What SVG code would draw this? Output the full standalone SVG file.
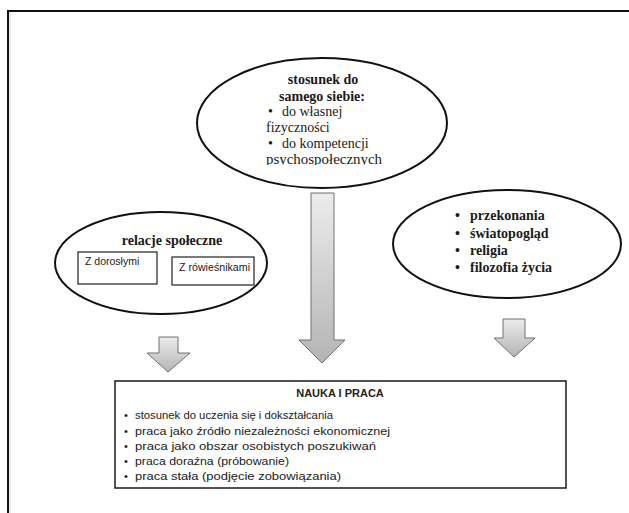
<svg xmlns="http://www.w3.org/2000/svg" width="629" height="513" viewBox="0 0 629 513">
  <style>
    .ell { fill: #ffffff; stroke: #111111; stroke-width: 2; }
    .box { fill: #ffffff; stroke: #222222; stroke-width: 1.2; }
    .ttl { font-family: "Liberation Serif", "Times New Roman", serif; font-weight: bold; font-size: 14px; fill: #1a1a1a; }
    .itm { font-family: "Liberation Serif", "Times New Roman", serif; font-size: 14px; fill: #1a1a1a; }
    .sans { font-family: "Liberation Sans", Arial, sans-serif; fill: #222222; }
    .arrow { stroke: #707070; stroke-width: 1; stroke-linejoin: miter; }
  </style>
  <defs>
    <linearGradient id="arrowFill" x1="0" y1="0" x2="0" y2="1">
      <stop offset="0" stop-color="#ececec"/>
      <stop offset="1" stop-color="#b4b4b4"/>
    </linearGradient>
    <clipPath id="topClip">
      <rect x="200" y="60" width="245" height="105"/>
    </clipPath>
  </defs>

  <rect x="0" y="0" width="629" height="513" fill="#ffffff"/>

  <!-- page frame: top and left rule only -->
  <g id="frame">
    <line x1="7" y1="11" x2="629" y2="11" stroke="#111" stroke-width="2"/>
    <line x1="8" y1="10" x2="8" y2="513" stroke="#111" stroke-width="2"/>
    <line x1="10" y1="12" x2="10" y2="513" stroke="#d8d8d8" stroke-width="1"/>
  </g>

  <!-- block arrows -->
  <g id="connectors">
    <path class="arrow" fill="url(#arrowFill)" d="M311,193 H334 V340 H345 L322,363 L299,340 H311 Z"/>
    <path class="arrow" fill="url(#arrowFill)" d="M159,337 H178 V353 H190 L168,372 L147,353 H159 Z"/>
    <path class="arrow" fill="url(#arrowFill)" d="M503,319 H525 V338 H535 L514,357 L494,338 H503 Z"/>
  </g>

  <g id="self">
    <ellipse class="ell" cx="322" cy="123" rx="125" ry="65"/>
    <text class="ttl" x="323" y="84" text-anchor="middle">stosunek do</text>
    <text class="ttl" x="322" y="101" text-anchor="middle">samego siebie:</text>
    <g clip-path="url(#topClip)">
      <text class="itm" x="268" y="116">•</text>
      <text class="itm" x="282" y="116">do własnej</text>
      <text class="itm" x="266" y="132">fizyczności</text>
      <text class="itm" x="268" y="148">•</text>
      <text class="itm" x="282" y="148">do kompetencji</text>
      <text class="itm" x="266" y="164" textLength="116" lengthAdjust="spacingAndGlyphs">psychospołecznych</text>
    </g>
  </g>

  <g id="social">
    <ellipse class="ell" cx="161" cy="263" rx="106" ry="51"/>
    <text class="ttl" x="172" y="245" text-anchor="middle">relacje społeczne</text>
    <rect class="box" x="78" y="252" width="79" height="32"/>
    <text class="sans" font-size="10.5" x="85" y="265">Z dorosłymi</text>
    <rect class="box" x="172" y="257" width="82" height="28"/>
    <text class="sans" font-size="10.5" x="179" y="271" textLength="71" lengthAdjust="spacingAndGlyphs">Z rówieśnikami</text>
  </g>

  <g id="worldview">
    <ellipse class="ell" cx="507" cy="244" rx="114" ry="54"/>
    <g class="ttl">
      <text x="455" y="220">•</text>
      <text x="470" y="220">przekonania</text>
      <text x="455" y="238">•</text>
      <text x="470" y="238">światopogląd</text>
      <text x="455" y="255">•</text>
      <text x="470" y="255">religia</text>
      <text x="455" y="272">•</text>
      <text x="470" y="272">filozofia życia</text>
    </g>
  </g>

  <g id="study-work">
    <rect x="115" y="381" width="451" height="107" fill="#ffffff" stroke="#1a1a1a" stroke-width="1.5"/>
    <text class="sans" font-size="11" font-weight="bold" x="340" y="397" text-anchor="middle">NAUKA I PRACA</text>
    <g class="sans" font-size="11" lengthAdjust="spacingAndGlyphs">
      <text x="124" y="419">•</text>
      <text x="135" y="419" textLength="198" lengthAdjust="spacingAndGlyphs">stosunek do uczenia się i dokształcania</text>
      <text x="124" y="435">•</text>
      <text x="135" y="435" textLength="255" lengthAdjust="spacingAndGlyphs">praca jako źródło niezależności ekonomicznej</text>
      <text x="124" y="450">•</text>
      <text x="135" y="450" textLength="241" lengthAdjust="spacingAndGlyphs">praca jako obszar osobistych poszukiwań</text>
      <text x="124" y="465">•</text>
      <text x="135" y="465" textLength="154" lengthAdjust="spacingAndGlyphs">praca doraźna (próbowanie)</text>
      <text x="124" y="480">•</text>
      <text x="135" y="480" textLength="206" lengthAdjust="spacingAndGlyphs">praca stała (podjęcie zobowiązania)</text>
    </g>
  </g>
</svg>
